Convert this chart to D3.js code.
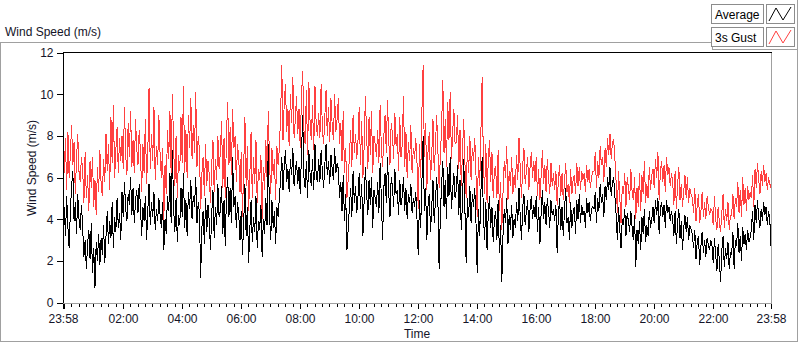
<!DOCTYPE html>
<html>
<head>
<meta charset="utf-8">
<script src="https://cdn.jsdelivr.net/npm/d3@7"></script>
<style>
    body { margin: 0; background: #ffffff; }
    text { font-family: "Liberation Sans", Arial, sans-serif; }
</style>
</head>
<body>
<svg id="chart" width="800" height="342"></svg>
<script>
// DATOS *************************
// Velocidad media (m/s), una muestra cada 2.5 minutos desde las 23:58
var avgSpeed = [
    3.8, 4.6, 3.2, 5.1, 3.6, 2.6, 4.4, 5.6, 6.3, 3.9, 4.8, 3.3, 5.2, 4.0, 3.5, 4.7,
    3.6, 2.2, 3.0, 1.6, 2.8, 3.5, 2.1, 3.8, 1.4, 2.6, 0.7, 2.9, 2.0, 3.3, 1.8, 3.1,
    2.3, 3.7, 1.9, 3.2, 4.4, 2.8, 3.9, 3.1, 4.8, 2.6, 4.1, 3.4, 5.0, 3.6, 4.3, 3.0,
    5.3, 4.1, 5.8, 4.5, 3.9, 5.2, 4.7, 6.0, 4.2, 5.5, 3.8, 4.9, 5.4, 4.3, 5.7, 4.6,
    3.2, 4.6, 3.9, 5.1, 3.0, 4.4, 5.7, 3.7, 4.8, 4.1, 5.3, 3.5, 4.5, 3.9, 5.0, 4.2,
    3.6, 4.8, 2.5, 4.0, 3.3, 5.1, 4.4, 6.2, 3.8, 7.3, 4.5, 3.4, 5.0, 2.9, 4.2, 3.7,
    5.5, 4.1, 6.2, 3.6, 4.9, 3.2, 5.3, 4.5, 5.9, 4.0, 5.1, 4.6, 6.0, 3.8, 4.8, 4.3,
    1.2, 3.6, 4.4, 2.8, 5.0, 3.4, 4.7, 3.9, 2.5, 4.3, 5.4, 3.1, 4.6, 3.7, 5.7, 4.1,
    4.4, 5.6, 3.3, 4.9, 2.7, 5.2, 6.0, 4.1, 5.5, 3.8, 7.0, 4.6, 5.1, 3.6, 4.8, 4.2,
    3.0, 4.4, 2.3, 3.8, 5.7, 3.2, 4.6, 1.9, 3.5, 4.9, 2.9, 4.1, 3.4, 5.1, 2.6, 3.9,
    3.5, 4.7, 2.2, 4.0, 3.3, 5.0, 3.7, 7.6, 4.2, 3.0, 4.9, 3.6, 4.4, 2.8, 4.6, 4.1,
    5.0, 5.9, 7.0, 5.4, 6.6, 7.3, 5.8, 6.4, 5.3, 6.9, 6.1, 7.4, 5.6, 6.3, 6.8, 5.7,
    6.5, 5.2, 7.1, 9.0, 6.0, 5.5, 6.8, 5.0, 7.3, 6.2, 5.6, 6.9, 5.4, 7.6, 6.1, 5.8,
    6.9, 5.8, 7.3, 6.3, 5.5, 6.6, 7.6, 6.1, 6.8, 5.7, 7.1, 6.4, 5.9, 7.4, 6.2, 6.7,
    6.4, 5.0, 5.8, 4.4, 6.1, 3.9, 5.2, 2.5, 3.5, 4.6, 5.5, 4.1, 6.3, 4.8, 5.6, 4.3,
    5.1, 6.2, 4.5, 5.7, 3.2, 4.9, 6.5, 5.3, 4.2, 5.9, 4.7, 6.0, 3.6, 5.4, 5.0, 4.6,
    5.8, 4.3, 6.7, 5.0, 3.0, 5.5, 6.2, 4.8, 7.0, 5.3, 4.1, 6.0, 5.6, 4.6, 6.4, 5.2,
    5.4, 4.2, 5.9, 4.7, 5.1, 6.0, 4.4, 5.5, 4.0, 5.2, 4.8, 5.7, 4.3, 5.0, 4.6, 5.3,
    4.0, 2.3, 4.9, 3.6, 5.8, 8.0, 4.4, 5.5, 3.0, 4.7, 5.2, 3.4, 4.6, 5.9, 3.8, 4.9,
    6.0, 4.9, 1.6, 4.3, 5.6, 6.8, 4.6, 5.9, 4.0, 6.5, 5.1, 7.0, 4.5, 5.4, 6.2, 5.0,
    5.4, 6.6, 4.2, 5.9, 3.5, 4.8, 6.9, 4.4, 1.9, 5.0, 4.1, 5.6, 3.8, 5.2, 4.6, 5.5,
    3.8, 1.4, 4.5, 3.2, 5.3, 7.0, 4.2, 3.0, 4.8, 2.5, 4.3, 5.1, 3.6, 4.6, 2.9, 4.0,
    4.4, 3.0, 4.9, 2.4, 3.7, 1.0, 3.3, 4.5, 3.8, 5.0, 2.8, 4.2, 3.5, 4.7, 3.1, 4.0,
    3.6, 4.8, 3.9, 5.5, 4.1, 3.0, 4.6, 5.2, 3.7, 4.4, 4.9, 3.4, 4.5, 5.1, 4.0, 4.7,
    4.1, 5.1, 3.4, 4.6, 2.8, 4.3, 5.4, 4.0, 4.8, 3.7, 5.0, 4.4, 3.6, 4.9, 4.2, 4.5,
    3.9, 4.7, 2.4, 4.2, 5.0, 3.5, 4.6, 3.2, 4.4, 5.5, 3.8, 4.1, 3.0, 4.8, 3.6, 4.3,
    4.6, 3.3, 4.9, 4.0, 5.2, 3.8, 4.7, 4.2, 4.4, 3.6, 5.0, 4.3, 4.8, 3.9, 4.5, 4.6,
    4.5, 5.3, 3.8, 5.0, 4.4, 5.7, 4.8, 5.2, 4.1, 5.6, 4.9, 6.0, 5.4, 6.5, 5.1, 5.8,
    6.0, 5.1, 4.2, 3.0, 4.6, 3.5, 2.6, 4.0, 3.7, 4.5, 3.2, 4.3, 3.9, 3.4, 4.4, 3.6,
    3.0, 4.2, 1.7, 3.5, 2.8, 3.9, 2.5, 4.1, 3.3, 4.5, 2.9, 3.7, 3.2, 4.4, 3.6, 4.0,
    4.6, 3.8, 4.9, 4.2, 5.0, 3.3, 4.5, 4.8, 4.1, 4.7, 3.6, 4.9, 4.3, 4.6, 3.9, 4.4,
    4.0, 3.2, 4.4, 2.8, 3.8, 4.5, 3.1, 3.9, 2.5, 3.6, 4.2, 3.4, 4.1, 3.0, 3.7, 3.5,
    3.3, 2.6, 3.5, 2.1, 2.9, 3.2, 1.8, 2.7, 3.4, 2.4, 3.0, 2.2, 3.1, 2.8, 2.5, 3.0,
    2.7, 1.9, 3.1, 2.3, 1.5, 2.8, 2.0, 1.0, 2.5, 3.2, 1.7, 2.6, 2.1, 2.9, 1.6, 2.4,
    2.3, 3.4, 1.6, 3.0, 2.7, 3.8, 2.4, 3.2, 2.0, 3.6, 2.8, 3.3, 2.5, 3.5, 2.9, 3.1,
    3.5, 4.4, 3.0, 4.7, 3.8, 4.9, 4.1, 3.6, 4.5, 3.9, 4.8, 4.2, 4.6, 3.7, 4.4, 4.0,
    2.7
];

// Racha de 3 segundos (m/s)
var gustSpeed = [
    7.4, 6.2, 7.9, 5.4, 8.2, 6.0, 7.1, 8.5, 6.6, 7.7, 5.2, 6.9, 8.1, 6.3, 5.8, 7.0,
    6.4, 4.8, 7.2, 5.0, 6.1, 4.4, 6.8, 5.5, 7.0, 4.6, 5.9, 4.2, 6.5, 5.3, 7.3, 5.7,
    5.1, 6.9, 5.8, 8.1, 6.3, 7.6, 5.4, 8.9, 6.7, 9.5, 6.0, 7.3, 8.4, 6.2, 7.9, 6.8,
    8.0, 6.4, 9.4, 7.1, 6.1, 8.6, 7.0, 9.2, 6.5, 7.8, 6.2, 8.8, 7.4, 6.6, 8.3, 7.2,
    5.3, 7.6, 6.2, 8.8, 5.7, 7.2, 10.3, 6.4, 8.1, 6.8, 9.4, 5.9, 7.5, 6.6, 9.0, 7.1,
    6.0, 7.4, 3.9, 6.6, 5.2, 8.3, 6.9, 9.2, 6.1, 10.0, 7.5, 5.6, 8.0, 5.0, 7.1, 6.3,
    8.9, 6.7, 10.4, 6.2, 8.3, 6.0, 9.0, 7.4, 9.8, 6.9, 8.5, 7.2, 10.1, 6.5, 8.0, 7.3,
    4.5, 6.2, 7.0, 5.1, 7.6, 5.6, 6.8, 6.1, 4.8, 6.6, 7.8, 5.3, 6.9, 5.9, 8.0, 6.4,
    7.2, 8.7, 5.5, 7.9, 5.0, 8.1, 9.6, 6.6, 8.4, 6.1, 9.3, 7.4, 8.0, 5.8, 7.6, 6.9,
    5.3, 7.2, 4.1, 6.5, 8.9, 5.6, 7.5, 4.4, 6.1, 8.2, 5.0, 7.0, 5.7, 7.8, 4.8, 6.4,
    5.9, 7.1, 4.0, 6.5, 5.4, 7.8, 6.0, 9.2, 6.8, 5.2, 7.4, 6.1, 6.9, 4.9, 7.5, 6.6,
    7.4, 8.9, 11.4, 7.8, 9.6, 10.5, 8.2, 9.3, 7.5, 10.0, 8.6, 10.8, 7.9, 8.8, 9.9, 8.1,
    9.3, 7.4, 9.9, 11.1, 8.3, 7.6, 10.2, 7.1, 10.6, 8.7, 7.8, 9.5, 7.3, 10.4, 8.5, 8.0,
    9.1, 7.9, 10.5, 8.4, 7.6, 8.9, 10.2, 8.0, 9.4, 7.7, 9.8, 8.5, 7.8, 10.0, 8.2, 8.8,
    9.8, 7.6, 8.6, 6.8, 9.2, 6.2, 7.4, 5.0, 5.9, 7.0, 8.3, 6.5, 9.0, 7.2, 8.1, 6.9,
    7.8, 9.4, 6.6, 8.7, 6.0, 7.5, 9.9, 8.1, 6.4, 8.9, 7.1, 9.2, 6.2, 8.0, 7.6, 7.0,
    8.3, 6.7, 9.5, 7.4, 6.5, 8.0, 9.0, 7.2, 9.7, 7.8, 6.6, 8.6, 8.1, 6.9, 9.1, 7.5,
    8.1, 6.3, 8.9, 7.0, 7.6, 9.9, 6.5, 8.2, 6.0, 7.7, 6.8, 8.5, 6.2, 7.4, 6.9, 7.9,
    6.7, 4.5, 7.6, 6.0, 9.2, 11.4, 7.0, 8.6, 5.4, 7.3, 8.2, 5.9, 7.1, 8.8, 6.3, 7.5,
    9.0, 7.3, 5.5, 7.0, 8.4, 10.7, 7.2, 8.8, 6.5, 9.6, 7.8, 10.1, 6.9, 8.1, 9.3, 7.6,
    7.7, 9.0, 6.4, 8.3, 5.6, 7.2, 8.8, 6.7, 5.0, 7.5, 6.2, 8.0, 5.9, 7.4, 6.8, 7.9,
    6.1, 4.1, 7.0, 5.6, 8.2, 10.8, 6.8, 5.2, 7.6, 4.8, 6.9, 7.8, 5.8, 7.2, 5.0, 6.4,
    6.5, 5.0, 7.3, 4.4, 5.8, 3.5, 5.3, 6.8, 6.0, 7.5, 4.9, 6.3, 5.6, 7.0, 5.2, 6.1,
    5.5, 7.1, 5.9, 7.9, 6.4, 5.0, 6.6, 7.4, 5.7, 6.3, 7.0, 5.4, 6.5, 7.2, 6.0, 6.8,
    5.8, 7.0, 5.1, 6.4, 4.9, 6.1, 7.3, 5.7, 6.6, 5.3, 6.9, 6.0, 5.2, 6.7, 5.6, 6.2,
    5.4, 6.3, 4.7, 5.9, 6.6, 5.1, 6.2, 4.9, 5.8, 6.7, 5.3, 5.7, 4.8, 6.4, 5.2, 5.9,
    6.1, 5.2, 6.7, 5.6, 6.5, 5.4, 6.3, 5.9, 6.2, 5.3, 6.6, 5.8, 6.4, 5.5, 6.0, 6.3,
    6.3, 7.2, 5.5, 6.8, 6.0, 7.5, 6.6, 7.0, 5.8, 7.4, 6.5, 7.9, 7.1, 8.1, 6.9, 7.7,
    7.8, 6.9, 5.8, 4.3, 6.3, 5.0, 3.8, 5.6, 5.2, 6.2, 4.6, 6.0, 5.5, 4.9, 6.4, 5.3,
    4.9, 6.0, 4.0, 5.5, 4.6, 6.2, 4.4, 6.1, 5.2, 6.8, 4.8, 5.7, 5.0, 6.5, 5.4, 6.1,
    6.4, 5.5, 6.9, 6.0, 7.2, 4.9, 6.3, 6.8, 5.8, 6.6, 5.3, 7.0, 6.1, 6.5, 5.6, 6.2,
    5.8, 4.7, 6.3, 4.5, 5.6, 6.5, 4.9, 5.7, 4.6, 5.3, 6.1, 5.0, 6.0, 4.8, 5.5, 5.2,
    5.0, 4.3, 5.5, 3.9, 4.7, 5.2, 3.8, 4.4, 5.3, 4.1, 4.8, 4.0, 5.1, 4.6, 4.2, 4.5,
    4.4, 3.7, 5.1, 4.0, 3.5, 4.6, 3.8, 3.4, 4.3, 5.2, 3.6, 4.5, 3.9, 4.8, 3.5, 4.2,
    4.2, 5.2, 4.0, 5.0, 4.6, 5.8, 4.3, 5.4, 4.1, 6.0, 4.7, 5.5, 4.4, 5.6, 4.9, 5.3,
    5.0, 6.1, 4.6, 6.4, 5.5, 6.7, 5.9, 5.2, 6.3, 5.6, 6.6, 5.8, 6.2, 5.4, 6.0, 5.7,
    5.5
];

var seriesNames = ['Average', '3s Gust'];
var seriesColors = ['#000000', '#ff4040'];
var yTicks = [0, 2, 4, 6, 8, 10, 12];
var xTickLabels = ['23:58', '02:00', '04:00', '06:00', '08:00', '10:00', '12:00',
                   '14:00', '16:00', '18:00', '20:00', '22:00', '23:58'];
var stepSeconds = 150;
var startTime = new Date(2020, 0, 1, 23, 58);
var endTime = new Date(2020, 0, 2, 23, 58);

// SVG ***************************
var svg = d3.select('#chart');
var textColor = '#141428';
var frameGray = '#a0a0a0';

svg.append('rect').attr('width', 800).attr('height', 342).attr('fill', '#ffffff');

// marco exterior del panel
svg.append('path')
    .attr('d', 'M0.5,342 V42.5 H712.5 V49.5 H797.5 M797.5,0 V341.5 H0')
    .attr('fill', 'none')
    .attr('stroke', frameGray)
    .attr('shape-rendering', 'crispEdges');

svg.append('text')
    .attr('x', 5)
    .attr('y', 36)
    .attr('font-size', '12px')
    .attr('fill', textColor)
    .text('Wind Speed (m/s)');

// ESCALAS
var plotLeft = 63, plotRight = 771, plotTop = 52, plotBottom = 303;
var x = d3.scaleTime().domain([startTime, endTime]).range([plotLeft, plotRight]);
var y = d3.scaleLinear().domain([0, 12]).range([plotBottom - 0.5, plotTop + 0.5]);

var times = avgSpeed.map(function (d, i) {
    return d3.timeSecond.offset(startTime, i * stepSeconds);
});

// AREA DEL GRAFICO
svg.append('rect')
    .attr('x', plotLeft).attr('y', plotTop)
    .attr('width', plotRight - plotLeft).attr('height', plotBottom - plotTop)
    .attr('fill', '#ffffff');

var line = d3.line()
    .x(function (d, i) { return x(times[i]); })
    .y(function (d) { return y(d); });

// sin antialias, como el grafico original
svg.append('path')
    .datum(gustSpeed)
    .attr('fill', 'none')
    .attr('stroke', seriesColors[1])
    .attr('stroke-width', 1)
    .attr('shape-rendering', 'crispEdges')
    .attr('d', line);

svg.append('path')
    .datum(avgSpeed)
    .attr('fill', 'none')
    .attr('stroke', seriesColors[0])
    .attr('stroke-width', 1)
    .attr('shape-rendering', 'crispEdges')
    .attr('d', line);

// bordes hundidos: negro arriba/izquierda, gris abajo/derecha
svg.append('path')
    .attr('d', 'M' + (plotLeft + 0.5) + ',' + plotBottom + ' V' + (plotTop + 0.5) + ' H' + (plotRight + 1))
    .attr('fill', 'none').attr('stroke', '#000000').attr('shape-rendering', 'crispEdges');
svg.append('path')
    .attr('d', 'M' + (plotRight + 0.5) + ',' + (plotTop + 1) + ' V' + (plotBottom + 0.5) + ' H' + plotLeft)
    .attr('fill', 'none').attr('stroke', frameGray).attr('shape-rendering', 'crispEdges');

// EJE Y
var yAxis = svg.append('g')
    .attr('transform', 'translate(' + (plotLeft - 0.5) + ',0)')
    .call(d3.axisLeft(y).tickValues(yTicks).tickSize(6).tickPadding(3).tickFormat(d3.format('d')));
yAxis.select('.domain').remove();
yAxis.selectAll('line').attr('stroke', '#000000').attr('shape-rendering', 'crispEdges');
yAxis.selectAll('text').attr('font-size', '12px').attr('fill', textColor)
    .style('font-family', '"Liberation Sans", Arial, sans-serif');

svg.append('text')
    .attr('transform', 'translate(36,168) rotate(-90)')
    .attr('text-anchor', 'middle')
    .attr('font-size', '12px')
    .attr('fill', textColor)
    .text('Wind Speed (m/s)');

// EJE X
var majorTicks = [startTime];
for (var h = 2; h <= 22; h += 2) majorTicks.push(new Date(2020, 0, 2, h, 0));
majorTicks.push(endTime);

var minorTicks = d3.timeMinute.every(15).range(startTime, endTime);

var xMinor = svg.append('g')
    .attr('transform', 'translate(0,' + (plotBottom + 1) + ')')
    .call(d3.axisBottom(x).tickValues(minorTicks).tickSize(3).tickFormat(''));
xMinor.select('.domain').remove();
xMinor.selectAll('line').attr('stroke', '#000000').attr('shape-rendering', 'crispEdges');

var xMajor = svg.append('g')
    .attr('transform', 'translate(0,' + (plotBottom + 1) + ')')
    .call(d3.axisBottom(x).tickValues(majorTicks).tickSize(5).tickPadding(5)
        .tickFormat(function (d, i) { return xTickLabels[i]; }));
xMajor.select('.domain').remove();
xMajor.selectAll('line').attr('stroke', '#000000').attr('shape-rendering', 'crispEdges');
xMajor.selectAll('text').attr('font-size', '12px').attr('fill', textColor)
    .style('font-family', '"Liberation Sans", Arial, sans-serif');
xMajor.select('.tick line').attr('stroke-width', 2);

svg.append('text')
    .attr('x', (plotLeft + plotRight) / 2)
    .attr('y', 338)
    .attr('text-anchor', 'middle')
    .attr('font-size', '12px')
    .attr('fill', textColor)
    .text('Time');

// LEYENDA
var legend = svg.append('g');
seriesNames.forEach(function (name, i) {
    var ly = 4 + i * 23;
    legend.append('rect')
        .attr('x', 711.5).attr('y', ly + 0.5).attr('width', 52).attr('height', 19)
        .attr('fill', '#ffffff').attr('stroke', '#8c8c8c').attr('shape-rendering', 'crispEdges');
    legend.append('text')
        .attr('x', 715).attr('y', ly + 15)
        .attr('font-size', '12px').attr('fill', '#000000')
        .text(name);
    legend.append('rect')
        .attr('x', 766.5).attr('y', ly + 0.5).attr('width', 28).attr('height', 19)
        .attr('fill', '#ffffff').attr('stroke', '#8c8c8c').attr('shape-rendering', 'crispEdges');
    legend.append('path')
        .attr('d', 'M769,' + (ly + 17) + ' L776,' + (ly + 4) + ' L783,' + (ly + 16) + ' L791,' + (ly + 3))
        .attr('fill', 'none').attr('stroke', seriesColors[i]).attr('stroke-width', 1);
});
</script>
</body>
</html>
